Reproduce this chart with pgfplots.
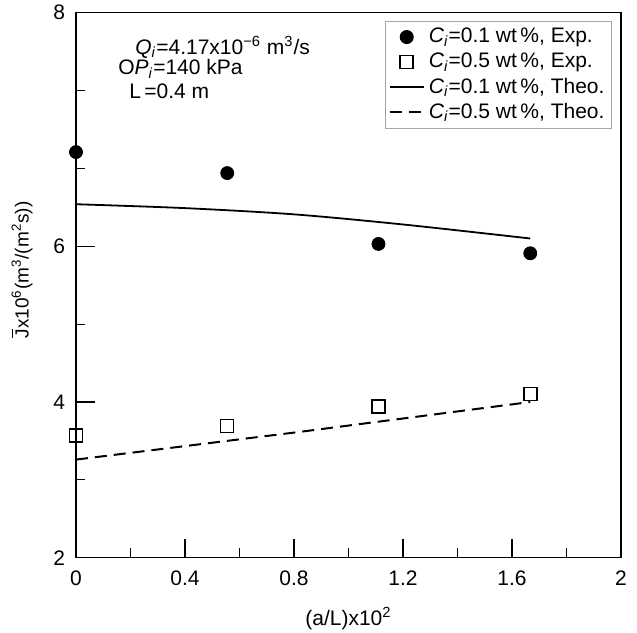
\documentclass[border=0pt]{standalone}
\usepackage{fontspec}
\setmainfont{Liberation Sans}
\usepackage{pgfplots}
\pgfplotsset{compat=1.18}

\newcommand{\Ci}{\textit{C}\textsubscript{\textit{i}}}

\begin{document}
\begin{tikzpicture}[font=\fontsize{10.5}{12}\selectfont]
\begin{axis}[
  scale only axis,
  width=272.5pt, height=272.5pt,
  xmin=0, xmax=2, ymin=2, ymax=9,
  axis line style={line width=0.6pt},
  every tick/.style={black, line width=0.6pt},
  tick align=inside,
  xtick pos=bottom, ytick pos=left,
  major tick length=9.5pt, minor tick length=4.75pt,
  xtick={0,0.4,0.8,1.2,1.6,2},
  xticklabels={0,0.4,0.8,1.2,1.6,2},
  minor xtick={0.2,0.6,1.0,1.4,1.8},
  ytick={2,4,6,9},
  yticklabels={2,4,6,8},
  minor ytick={3,5,7,8},
  xticklabel style={yshift=-3pt},
  yticklabel style={xshift=-2pt},
  xlabel={(a/L)x10\textsuperscript{2}},
  xlabel style={at={(axis description cs:0.5,-0.112)}, anchor=center},
  ylabel={$\overline{\mbox{J}}$x10\textsuperscript{6}(m\textsuperscript{3}/(m\textsuperscript{2}s))},
  ylabel style={at={(axis description cs:-0.099,0.528)}, anchor=center,
    font=\fontsize{9.5}{11}\selectfont},
  legend cell align=left,
  legend style={at={(rel axis cs:0.9835,0.9853)}, anchor=north east,
    draw=gray!70, line width=0.5pt, inner sep=1.5pt, row sep=-0.4pt,
    font=\fontsize{10.5}{12}\selectfont},
]
\coordinate (bl) at (rel axis cs:0,0);
\coordinate (tr) at (rel axis cs:1,1);

\addplot[only marks, mark=*, mark size=3.25pt, black]
  coordinates {(0,7.21) (0.555,6.94) (1.11,6.03) (1.667,5.91)};
\addlegendentry{\Ci=0.1 wt\,\%, Exp.}

\addplot[only marks, mark=square, mark size=3.25pt, black, mark options={line width=0.75pt}]
  coordinates {(0,3.57) (0.555,3.69) (1.11,3.94) (1.667,4.10)};
\addlegendentry{\Ci=0.5 wt\,\%, Exp.}

\addplot[black, line width=0.9pt, smooth, no marks]
  coordinates {(0,6.54) (0.4,6.49) (0.8,6.41) (1.2,6.28) (1.667,6.10)};
\addlegendentry{\Ci=0.1 wt\,\%, Theo.}

\addplot[black, line width=1pt, dash pattern=on 6pt off 3.5pt, no marks]
  coordinates {(0,3.26) (0.83,3.62) (1.667,4.00)};
\addlegendentry{\Ci=0.5 wt\,\%, Theo.}

\node[anchor=west, inner sep=0pt] at (axis cs:0.2165,8.56)
  {\textit{Q}\textsubscript{\textit{i}}=4.17x10\textsuperscript{−6} m\textsuperscript{3}/s};
\node[anchor=west, inner sep=0pt] at (axis cs:0.154,8.28)
  {O\textit{P}\textsubscript{\textit{i}}=140 kPa};
\node[anchor=west, inner sep=0pt] at (axis cs:0.194,7.99) {L\,=0.4 m};
\end{axis}
\pgfresetboundingbox
\path ([xshift=-38pt,yshift=-37.5pt]bl) rectangle ([xshift=8pt,yshift=6.35pt]tr);
\end{tikzpicture}
\end{document}
